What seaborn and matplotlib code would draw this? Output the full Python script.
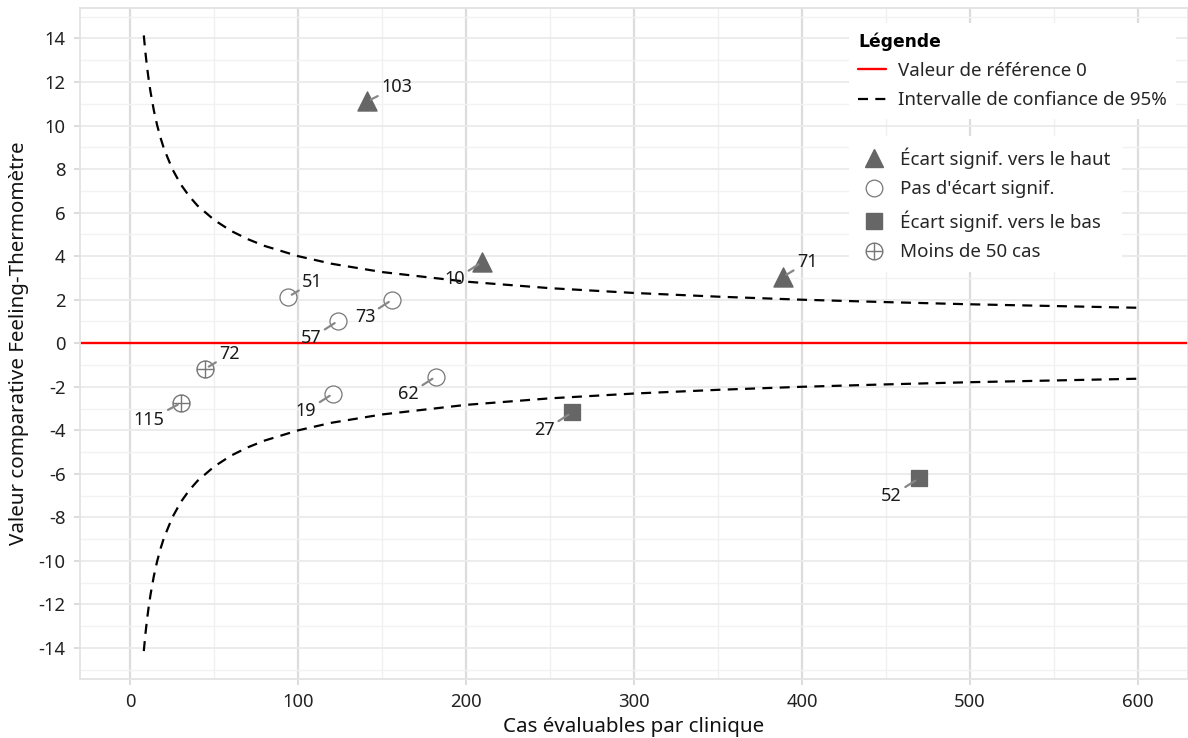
import numpy as np
import pandas as pd
import seaborn as sns
import matplotlib.pyplot as plt
from matplotlib.path import Path
from matplotlib.lines import Line2D

# Cliniques: cas evaluables, valeur comparative, groupe
clinic_ids = ['103', '10', '71', '51', '73', '57', '72', '115', '19', '62', '27', '52']
cases = [141, 209.5, 388.7, 94, 156, 123.8, 44.6, 30.4, 120.8, 182, 263, 469.6]
values = [11.11, 3.73, 3.05, 2.13, 2.0, 1.03, -1.17, -2.73, -2.31, -1.53, -3.18, -6.21]
groups = ['haut', 'haut', 'haut', 'ns', 'ns', 'ns', 'moins50', 'moins50', 'ns', 'ns', 'bas', 'bas']
label_side = ['ur', 'll', 'ur', 'ur', 'll', 'll', 'ur', 'll', 'll', 'll', 'll', 'll']

# Intervalle de confiance 95%
ci_x = [8, 9, 10, 11, 12, 14, 16, 18, 20, 25, 30, 35, 40, 50, 60, 70, 80, 100, 120,
        150, 200, 250, 300, 350, 400, 450, 500, 550, 600]
ci_upper = [14.14, 13.33, 12.65, 12.06, 11.55, 10.69, 10.0, 9.43, 8.94, 8.0, 7.30, 6.76,
            6.32, 5.66, 5.16, 4.78, 4.47, 4.0, 3.65, 3.27, 2.83, 2.53, 2.31, 2.14, 2.0,
            1.89, 1.79, 1.71, 1.63]
ci_lower = [-14.14, -13.33, -12.65, -12.06, -11.55, -10.69, -10.0, -9.43, -8.94, -8.0,
            -7.30, -6.76, -6.32, -5.66, -5.16, -4.78, -4.47, -4.0, -3.65, -3.27, -2.83,
            -2.53, -2.31, -2.14, -2.0, -1.89, -1.79, -1.71, -1.63]

group_labels = {
    'haut': 'Écart signif. vers le haut',
    'ns': "Pas d'écart signif.",
    'bas': 'Écart signif. vers le bas',
    'moins50': 'Moins de 50 cas',
}

df = pd.DataFrame({'id': clinic_ids, 'cases': cases, 'value': values, 'group': groups})
ci = pd.DataFrame({'x': ci_x + ci_x, 'y': ci_upper + ci_lower,
                   'side': ['up'] * len(ci_x) + ['low'] * len(ci_x)})

sns.set_theme(style='white')
plt.rcParams['font.family'] = ['Noto Sans', 'DejaVu Sans']
plt.rcParams['axes.unicode_minus'] = False

fig = plt.figure(figsize=(11.88, 7.38), dpi=100)
ax = fig.add_axes([80 / 1188, 1 - 678.5 / 738, 1108 / 1188, 670.5 / 738])

# crossed circle marker
circ = Path.unit_circle()
cross = Path([(-1, 0), (1, 0), (0, -1), (0, 1)],
             [Path.MOVETO, Path.LINETO, Path.MOVETO, Path.LINETO])
oplus = Path.make_compound_path(circ, cross)

grey = '#666666'
dash = (0, (4.5, 3.3))
ax.axhline(0, color='red', lw=1.7, zorder=2)
sns.lineplot(data=ci, x='x', y='y', units='side', estimator=None, color='black',
             lw=1.6, ax=ax, zorder=3, sort=False)
for l in ax.get_lines()[1:]:
    l.set_linestyle(dash)

sub = df[df.group == 'haut']
sns.scatterplot(data=sub, x='cases', y='value', marker='^', s=185, color=grey,
                edgecolor=grey, ax=ax, zorder=5)
sub = df[df.group == 'ns']
sns.scatterplot(data=sub, x='cases', y='value', marker='o', s=150, facecolor='white',
                edgecolor='#777777', linewidth=0.9, ax=ax, zorder=5)
sub = df[df.group == 'bas']
sns.scatterplot(data=sub, x='cases', y='value', marker='s', s=135, color=grey,
                edgecolor=grey, ax=ax, zorder=5)
sub = df[df.group == 'moins50']
sns.scatterplot(data=sub, x='cases', y='value', marker=oplus, s=150, facecolor='white',
                edgecolor='#777777', linewidth=1.0, ax=ax, zorder=5)

# labels with repel-like segments
for cid, x, y, side in zip(clinic_ids, cases, values, label_side):
    if side == 'ur':
        off, ha, va = (10, 4), 'left', 'bottom'
    else:
        off, ha, va = (-12, -6), 'right', 'top'
    ax.annotate(cid, xy=(x, y), xytext=off, textcoords='offset points',
                ha=ha, va=va, fontsize=13, color='#1a1a1a', zorder=6,
                arrowprops=dict(arrowstyle='-', color='#888888', lw=1.6,
                                shrinkA=0, shrinkB=3))

ax.set_xticks(np.arange(0, 601, 100))
ax.set_xticks(np.arange(50, 600, 100), minor=True)
ax.set_yticks(np.arange(-14, 15, 2))
ax.set_yticks(np.arange(-15, 16, 2), minor=True)
ax.set_xlim(-30, 630)
ax.set_ylim(-15.4, 15.4)
ax.grid(which='major', axis='x', color='#dcdcdc', lw=1.6)
ax.grid(which='minor', axis='x', color='#f0f0f0', lw=1.0)
ax.grid(which='major', axis='y', color='#ebebeb', lw=1.3)
ax.grid(which='minor', axis='y', color='#f2f2f2', lw=1.0)
ax.set_axisbelow(True)
for sp in ax.spines.values():
    sp.set_color('#e3e3e3')
    sp.set_linewidth(1.3)
ax.tick_params(which='major', length=4.5, width=1.2, color='#d6d6d6',
               labelsize=13.3, labelcolor='#222222', bottom=True, left=True, pad=6)
ax.tick_params(which='minor', length=0)
ax.set_xlabel('Cas évaluables par clinique', fontsize=14.8, color='#111111', labelpad=4)
ax.set_ylabel('Valeur comparative Feeling-Thermomètre', fontsize=14.8,
              color='#111111', labelpad=7)

# legends
h1 = [Line2D([], [], color='red', lw=1.7),
      Line2D([], [], color='black', lw=1.6, ls=dash)]
leg1 = ax.legend(h1, ['Valeur de référence 0', 'Intervalle de confiance de 95%'],
                 title='Légende', loc='upper left', bbox_to_anchor=(0.694, 0.978),
                 fontsize=13.5, title_fontsize=13.5,
                 frameon=True, facecolor='white', edgecolor='none', framealpha=1,
                 handlelength=1.5, handletextpad=0.62, labelspacing=0.6,
                 borderpad=0.5, alignment='left', borderaxespad=0)
ttl = leg1.get_title()
ttl.set_family(['DejaVu Sans'])
ttl.set_fontweight('bold')
ttl.set_fontsize(12.3)
ttl.set_color('black')
ax.add_artist(leg1)
h2 = [Line2D([], [], ls='', marker='^', ms=13.5, color=grey),
      Line2D([], [], ls='', marker='o', ms=12, mfc='white', mec='#777777', mew=0.9),
      Line2D([], [], ls='', marker='s', ms=11.5, color=grey),
      Line2D([], [], ls='', marker=oplus, ms=12, mfc='white', mec='#777777', mew=1.0)]
leg2 = ax.legend(h2, [group_labels[k] for k in ['haut', 'ns', 'bas', 'moins50']],
                 loc='upper left', bbox_to_anchor=(0.694, 0.809),
                 fontsize=13.5, frameon=True, facecolor='white', edgecolor='none',
                 framealpha=1, handlelength=1.5, handletextpad=0.62,
                 labelspacing=0.62, borderpad=0.6, borderaxespad=0)
leg1.set_zorder(10)
leg2.set_zorder(10)

fig.savefig('out.png', dpi=100)
